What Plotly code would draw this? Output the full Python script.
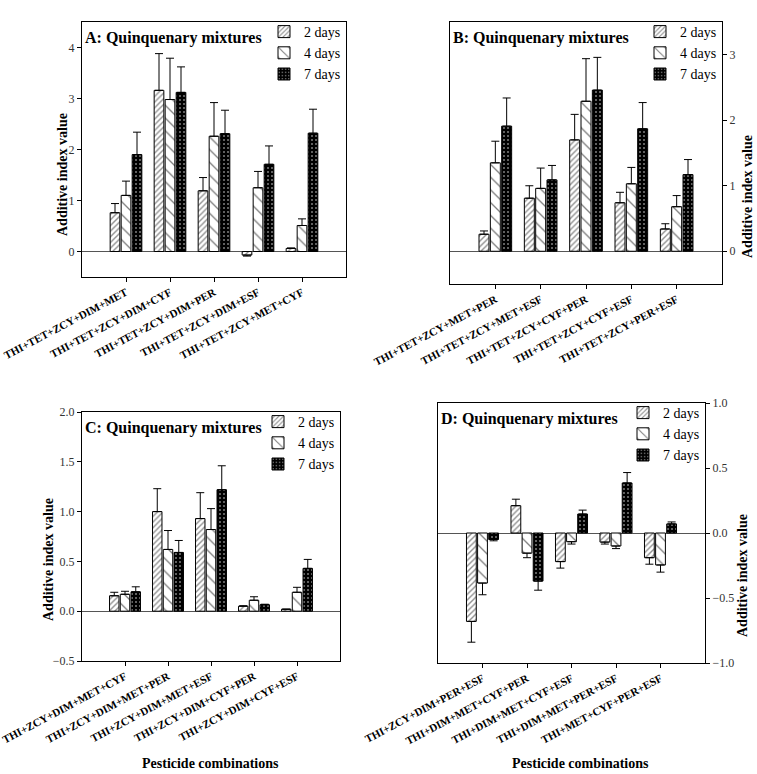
import plotly.graph_objects as go

# --- data ---
days = ["2 days", "4 days", "7 days"]

combos_a = ["THI+TET+ZCY+DIM+MET", "THI+TET+ZCY+DIM+CYF", "THI+TET+ZCY+DIM+PER",
            "THI+TET+ZCY+DIM+ESF", "THI+TET+ZCY+MET+CYF"]
a_2d = [0.76, 3.16, 1.19, -0.07, 0.06]
a_4d = [1.10, 2.98, 2.26, 1.25, 0.51]
a_7d = [1.90, 3.12, 2.31, 1.71, 2.32]
a_2d_err = [0.18, 0.72, 0.26, 0.02, 0.01]
a_4d_err = [0.28, 0.81, 0.66, 0.32, 0.13]
a_7d_err = [0.44, 0.50, 0.46, 0.36, 0.47]

combos_b = ["THI+TET+ZCY+MET+PER", "THI+TET+ZCY+MET+ESF", "THI+TET+ZCY+CYF+PER",
            "THI+TET+ZCY+CYF+ESF", "THI+TET+ZCY+PER+ESF"]
b_2d = [0.26, 0.81, 1.70, 0.74, 0.34]
b_4d = [1.35, 0.96, 2.29, 1.03, 0.68]
b_7d = [1.91, 1.09, 2.46, 1.87, 1.17]
b_2d_err = [0.05, 0.19, 0.39, 0.16, 0.08]
b_4d_err = [0.33, 0.31, 0.65, 0.25, 0.17]
b_7d_err = [0.43, 0.22, 0.50, 0.40, 0.23]

combos_c = ["THI+ZCY+DIM+MET+CYF", "THI+ZCY+DIM+MET+PER", "THI+ZCY+DIM+MET+ESF",
            "THI+ZCY+DIM+CYF+PER", "THI+ZCY+DIM+CYF+ESF"]
c_2d = [0.155, 1.00, 0.93, 0.05, 0.02]
c_4d = [0.17, 0.62, 0.82, 0.11, 0.19]
c_7d = [0.195, 0.59, 1.22, 0.065, 0.43]
c_2d_err = [0.035, 0.23, 0.26, 0.005, 0.0]
c_4d_err = [0.03, 0.19, 0.21, 0.035, 0.05]
c_7d_err = [0.05, 0.12, 0.24, 0.005, 0.09]

combos_d = ["THI+ZCY+DIM+PER+ESF", "THI+DIM+MET+CYF+PER", "THI+DIM+MET+CYF+ESF",
            "THI+DIM+MET+PER+ESF", "THI+MET+CYF+PER+ESF"]
d_2d = [-0.68, 0.21, -0.22, -0.07, -0.19]
d_4d = [-0.385, -0.155, -0.067, -0.10, -0.246]
d_7d = [-0.05, -0.37, 0.146, 0.385, 0.07]
d_2d_err = [0.16, 0.05, 0.05, 0.015, 0.05]
d_4d_err = [0.09, 0.035, 0.018, 0.02, 0.055]
d_7d_err = [0.01, 0.07, 0.03, 0.08, 0.015]

FONT = "Liberation Serif"
W, H = 757, 774

patterns = [
    dict(shape="/", fgcolor="#222222", bgcolor="white", size=4, solidity=0.35),
    dict(shape="\\", fgcolor="black", bgcolor="white", size=9, solidity=0.15),
    dict(shape=".", fgcolor="white", bgcolor="black", size=4, solidity=0.2),
]


def err_kw(vals, errs):
    # one-sided error bars pointing away from zero
    up = [e if v >= 0 else 0 for v, e in zip(vals, errs)]
    down = [e if v < 0 else 0 for v, e in zip(vals, errs)]
    return dict(type="data", symmetric=False, array=up, arrayminus=down,
                color="black", thickness=1, width=4)


def px_x(x):
    return x / W


def px_y(y):
    return 1 - y / H


panels = [
    # letter, combos, series, errs, axis suffix, box (x0, x1, y0, y1), y range, dtick, fmt, side
    ("A", combos_a, [a_2d, a_4d, a_7d], [a_2d_err, a_4d_err, a_7d_err], "",
     (82, 346, 22, 277), [-0.5, 4.5], 1, "d", "left"),
    ("B", combos_b, [b_2d, b_4d, b_7d], [b_2d_err, b_4d_err, b_7d_err], "2",
     (450, 722, 22, 284), [-0.5, 3.5], 1, "d", "right"),
    ("C", combos_c, [c_2d, c_4d, c_7d], [c_2d_err, c_4d_err, c_7d_err], "3",
     (82, 340, 412, 661), [-0.5, 2.0], 0.5, ".1f", "left"),
    ("D", combos_d, [d_2d, d_4d, d_7d], [d_2d_err, d_4d_err, d_7d_err], "4",
     (438, 705, 403, 663), [-1.0, 1.0], 0.5, ".1f", "right"),
]

fig = go.Figure()
layout = {}
annotations = []

for letter, combos, series, errs, sfx, box, yr, dt, fmt, side in panels:
    x0, x1, y0, y1 = box
    legend_name = "legend" + sfx
    for i, (vals, ev) in enumerate(zip(series, errs)):
        fig.add_trace(go.Bar(
            x=combos, y=vals, name=days[i],
            xaxis="x" + sfx, yaxis="y" + sfx,
            legend=legend_name,
            marker=dict(color="white", line=dict(color="black", width=1),
                        pattern=patterns[i]),
            error_y=err_kw(vals, ev),
        ))

    layout["xaxis" + sfx] = dict(
        domain=[px_x(x0), px_x(x1)], anchor="y" + sfx, type="category",
        range=[-1, 5], showline=True, linecolor="black", linewidth=1, mirror=True,
        ticks="outside", ticklen=4, tickcolor="black", tickangle=-28,
        tickfont=dict(family=FONT, size=11, color="black", weight="bold"),
        showgrid=False, zeroline=False, automargin=False,
    )
    layout["yaxis" + sfx] = dict(
        domain=[px_y(y1), px_y(y0)], anchor="x" + sfx, side=side,
        range=yr, dtick=dt, tick0=0, tickformat=fmt,
        showline=True, linecolor="black", linewidth=1, mirror=True,
        ticks="outside", ticklen=4, tickcolor="black",
        tickfont=dict(family=FONT, size=12, color="#333333"),
        showgrid=False, zeroline=True, zerolinecolor="#555555", zerolinewidth=1,
        automargin=False,
    )
    layout[legend_name] = dict(
        x=px_x(x1), xanchor="right", y=px_y(y0 - 6), yanchor="top",
        bgcolor="rgba(0,0,0,0)", font=dict(family=FONT, size=14, color="black"),
        tracegroupgap=0, itemwidth=30,
    )
    annotations.append(dict(
        text=f"<b>{letter}: Quinquenary mixtures</b>", xref="paper", yref="paper",
        x=px_x(x0 + 1), y=px_y(y0 + 16), xanchor="left", yanchor="middle",
        showarrow=False, font=dict(family=FONT, size=16, color="black"),
    ))

# axis titles as annotations
for x, y in [(62, 175), (48, 560), (747, 197), (742, 576)]:
    annotations.append(dict(text="<b>Additive index value</b>", xref="paper", yref="paper",
                            x=px_x(x), y=px_y(y), xanchor="center", yanchor="middle",
                            textangle=-90, showarrow=False,
                            font=dict(family=FONT, size=14, color="black")))
for x in [211, 580]:
    annotations.append(dict(text="<b>Pesticide combinations</b>", xref="paper", yref="paper",
                            x=px_x(x), y=px_y(763), xanchor="center", yanchor="middle",
                            showarrow=False,
                            font=dict(family=FONT, size=14, color="black")))

fig.update_layout(
    **layout,
    annotations=annotations,
    barmode="group", bargap=0.25, bargroupgap=0.12,
    width=W, height=H, margin=dict(l=0, r=0, t=0, b=0, autoexpand=False),
    paper_bgcolor="white", plot_bgcolor="white",
    font=dict(family=FONT),
)

# drop the browser's default body margin so the figure sits at the page origin
fig.write_html("out.html", config={"displayModeBar": False},
               post_script="document.body.style.margin='0';")
